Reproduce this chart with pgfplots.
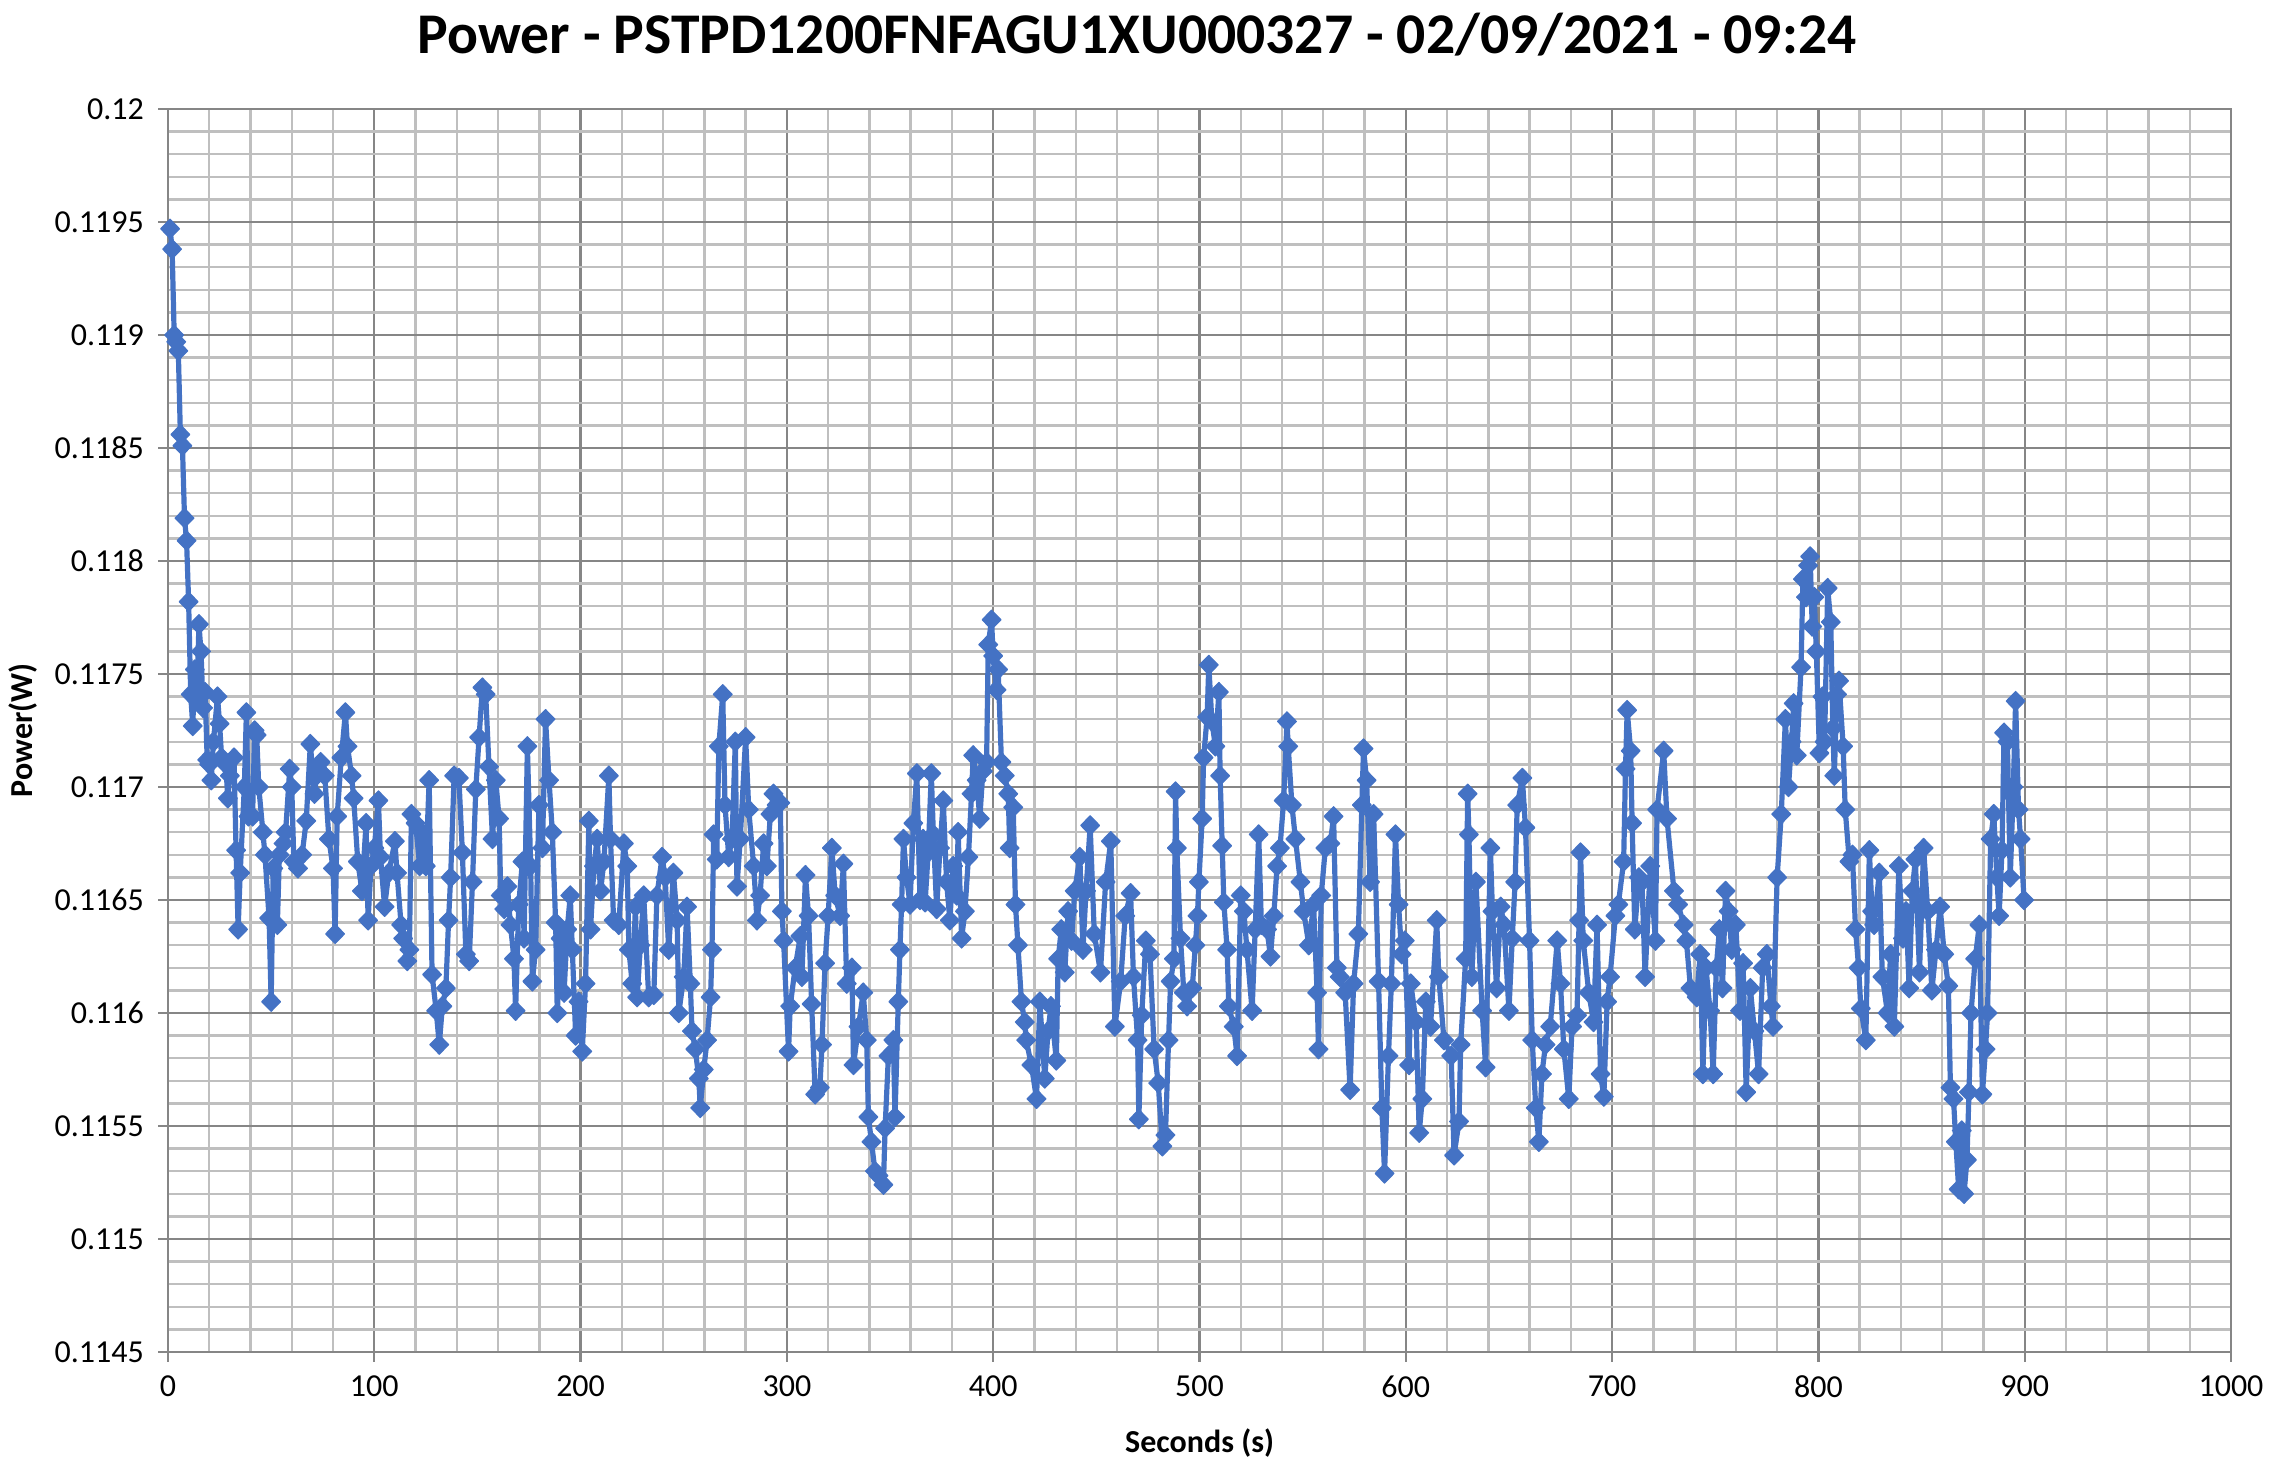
\documentclass[border=0pt]{standalone}
\usepackage{fontspec}
\setmainfont{Carlito}
\usepackage{pgfplots}
\pgfplotsset{compat=1.18}
\definecolor{series}{HTML}{4472C4}
\definecolor{majgrid}{RGB}{134,134,134}
\definecolor{mingrid}{RGB}{191,191,191}

\begin{document}
\begin{tikzpicture}
\begin{axis}[
  at={(0,0)}, anchor=south west,
  scale only axis, width=515.75pt, height=310.75pt,
  xmin=0, xmax=1000, ymin=0.1145, ymax=0.12,
  xtick={0,100,200,300,400,500,600,700,800,900,1000},
  ytick={0.1145,0.115,0.1155,0.116,0.1165,0.117,0.1175,0.118,0.1185,0.119,0.1195,0.12},
  minor x tick num=4, minor y tick num=4,
  grid=both,
  major grid style={majgrid, line width=0.6pt},
  minor grid style={mingrid, line width=0.6pt},
  axis line style={majgrid, line width=0.6pt},
  tick align=outside, major tick length=2.5pt, minor tick length=0pt,
  tick style={majgrid, line width=0.6pt},
  xtick pos=left, ytick pos=left,
  scaled ticks=false,
  tick label style={font=\fontsize{8}{9.6}\selectfont, /pgf/number format/assume math mode=true},
  yticklabel style={/pgf/number format/.cd, fixed, precision=4},
  xticklabel style={/pgf/number format/.cd, 1000 sep={}},
]
\addplot[series, line width=1.3pt, line join=round, mark=diamond*, mark size=2.4pt,
  mark options={fill=series, draw=series, line width=0.3pt, xscale=1.3}] table {
x y
1 0.11947
2 0.11938
3 0.11900
4 0.11897
5 0.11893
6 0.11856
7 0.11851
8 0.11819
9 0.11809
10 0.11782
11 0.11741
12 0.11727
13 0.11752
14 0.11740
15 0.11772
16 0.11760
17 0.11735
18 0.11742
19 0.11712
20 0.11710
21 0.11703
22 0.11720
24 0.11740
25 0.11728
26 0.11713
28 0.11710
29 0.11695
30 0.11705
32 0.11713
33 0.11672
34 0.11637
35 0.11662
37 0.11700
38 0.11733
39 0.11687
41 0.11687
42 0.11725
43 0.11723
44 0.11700
46 0.11680
47 0.11670
49 0.11642
50 0.11605
51 0.11664
53 0.11639
54 0.11670
56 0.11675
57 0.11680
59 0.11708
60 0.11700
61 0.11667
63 0.11664
65 0.11670
67 0.11685
69 0.11719
71 0.11697
72 0.11705
74 0.11711
76 0.11705
78 0.11677
80 0.11664
81 0.11635
82 0.11687
84 0.11713
86 0.11733
87 0.11718
89 0.11705
90 0.11695
92 0.11667
94 0.11654
96 0.11684
97 0.11641
98.4 0.11665
100 0.11673
102 0.11694
103 0.11669
105 0.11647
107 0.11662
110 0.11676
111 0.11662
113 0.11639
114 0.11633
116 0.11623
117 0.11628
118 0.11688
120 0.11684
122 0.11665
123 0.11680
125 0.11665
126.6 0.11703
128 0.11617
130 0.11601
131.5 0.11586
133 0.11603
134.7 0.11611
136 0.11641
137 0.11660
138.7 0.11705
141 0.11704
142.7 0.11671
144.4 0.11626
146 0.11623
147.6 0.11658
149.2 0.11699
150.8 0.11722
152.4 0.11744
154 0.11741
155.6 0.11709
157.3 0.11677
158.9 0.11703
160.5 0.11686
161.3 0.11652
163 0.11646
164.5 0.11656
166 0.11639
167.7 0.11624
168.5 0.11601
170 0.11648
171.8 0.11667
172.6 0.11633
174.2 0.11718
175.8 0.11665
176.6 0.11614
178.2 0.11628
179.8 0.11692
181.5 0.11673
183 0.11730
184.7 0.11703
186.3 0.11680
187.9 0.11640
188.7 0.11600
190.3 0.11633
192 0.11609
193.5 0.11637
195 0.11652
196 0.11628
197.6 0.11590
199 0.11605
200.8 0.11583
202.4 0.11613
204 0.11685
204.8 0.11637
206.5 0.11665
208 0.11677
209.7 0.11654
211.3 0.11667
213.7 0.11705
214.5 0.11677
216 0.11641
218.5 0.11639
221 0.11675
222.6 0.11665
223.4 0.11628
225 0.11613
226.6 0.11647
227.4 0.11607
229 0.11630
230.6 0.11652
233 0.11607
235.5 0.11608
237 0.11652
239.5 0.11669
241 0.11660
242.7 0.11628
245 0.11662
246.8 0.11641
247.6 0.11600
250 0.11616
251.6 0.11647
253.2 0.11613
254 0.11592
255.6 0.11584
257.3 0.11571
258 0.11558
259.7 0.11575
261.3 0.11588
263 0.11607
263.7 0.11628
264.5 0.11679
266 0.11668
267 0.11718
268.9 0.11741
270 0.11692
271.8 0.11669
273.4 0.11677
275 0.11720
275.8 0.11656
277.4 0.11677
280 0.11722
281.5 0.11690
283.9 0.11665
285.5 0.11641
287 0.11652
288.7 0.11675
290.3 0.11665
292 0.11688
293.5 0.11697
295 0.11692
296.8 0.11693
297.6 0.11645
298.4 0.11632
300.8 0.11583
301.6 0.11603
304 0.11620
306.5 0.11634
307.3 0.11616
309 0.11661
310.5 0.11643
312 0.11604
313.7 0.11564
316 0.11567
317 0.11586
318.5 0.11622
320 0.11643
321.8 0.11673
323.4 0.11652
325.8 0.11643
327.4 0.11666
329 0.11613
331.5 0.11620
332.3 0.11577
334.7 0.11594
337 0.11609
338.7 0.11588
339.5 0.11554
341 0.11543
342.7 0.11530
344.4 0.11528
346.8 0.11524
347.6 0.11549
349.2 0.11581
351.6 0.11588
352.4 0.11554
354 0.11605
354.8 0.11628
355.6 0.11648
356.5 0.11677
358 0.11660
359.7 0.11648
361.3 0.11684
363 0.11706
364.5 0.11650
366 0.11677
367 0.11649
368.5 0.11671
370 0.11706
371 0.11679
372.6 0.11646
374.2 0.11673
375.8 0.11694
377.4 0.11658
379 0.11641
380.6 0.11665
382.3 0.11652
383 0.11680
384.7 0.11633
386.3 0.11645
388 0.11669
389.5 0.11697
390.3 0.11714
392 0.11703
393.5 0.11686
395 0.11707
396.8 0.11711
397.6 0.11763
399.2 0.11774
400 0.11758
401.6 0.11743
402.4 0.11752
404 0.11711
405.6 0.11705
407.3 0.11697
408 0.11673
409.7 0.11691
410.8 0.11648
412 0.11630
413.7 0.11605
415.3 0.11596
416 0.11588
418.5 0.11577
421 0.11562
422.6 0.11605
425 0.11571
426.6 0.11592
428 0.11603
430.6 0.11579
431.5 0.11624
433 0.11637
434.7 0.11618
436.3 0.11645
438 0.11632
439.5 0.11654
442 0.11669
443.5 0.11628
445 0.11654
447 0.11683
449 0.11635
452 0.11618
454.5 0.11658
457 0.11676
459 0.11594
461.8 0.11614
464 0.11643
466.6 0.11653
468 0.11616
470 0.11588
470.6 0.11553
472 0.11599
474 0.11632
476 0.11626
478 0.11584
480 0.11569
482 0.11541
483.5 0.11546
485 0.11588
486 0.11614
487.6 0.11624
488.4 0.11698
489 0.11673
490.8 0.11633
492.4 0.11609
494 0.11603
496.5 0.11611
498 0.11630
499 0.11643
499.7 0.11658
501.3 0.11686
502 0.11713
503.7 0.11731
504.5 0.11754
506 0.11729
507.7 0.11718
509.4 0.11742
510 0.11705
511 0.11674
511.8 0.11649
513.4 0.11628
514.2 0.11603
516.6 0.11594
518.2 0.11581
520 0.11652
521.5 0.11645
523 0.11628
525.5 0.11601
527 0.11637
528.7 0.11679
530 0.11639
532.7 0.11637
534.4 0.11625
536 0.11643
537.6 0.11665
539 0.11673
540.8 0.11694
542.4 0.11729
543 0.11718
544.8 0.11692
546.5 0.11677
548.9 0.11658
550.5 0.11645
553 0.11630
555.3 0.11648
557 0.11609
557.7 0.11584
559 0.11652
561 0.11673
563.4 0.11675
565 0.11687
566.6 0.11620
568 0.11616
570.6 0.11609
573 0.11566
574.7 0.11613
577 0.11635
578.7 0.11692
579.5 0.11717
581 0.11703
582.7 0.11658
584.4 0.11688
586.8 0.11614
588.4 0.11558
589.7 0.11529
591.6 0.11581
593 0.11613
595 0.11679
596.5 0.11648
598 0.11626
599.5 0.11632
601.6 0.11577
602.4 0.11613
605 0.11596
606.5 0.11547
608 0.11562
609.7 0.11605
612 0.11594
615 0.11641
616 0.11616
618.5 0.11588
622 0.11581
623.4 0.11537
625.8 0.11552
626.6 0.11586
629 0.11624
630 0.11697
630.6 0.11679
632 0.11616
634 0.11658
637 0.11601
638.7 0.11576
641 0.11673
642 0.11645
644 0.11611
646 0.11647
647.6 0.11639
650 0.11601
651.6 0.11633
653 0.11658
654 0.11692
656.5 0.11704
658 0.11682
660 0.11632
661.3 0.11588
663 0.11558
664.5 0.11543
666 0.11573
667.7 0.11586
670 0.11594
673.4 0.11632
675 0.11613
676.6 0.11584
679 0.11562
680.6 0.11594
683 0.11599
684 0.11641
684.7 0.11671
686 0.11632
688.7 0.11609
691 0.11596
692.7 0.11639
694.4 0.11573
696 0.11563
697.6 0.11605
699 0.11616
701.6 0.11643
703 0.11648
705.6 0.11667
706.5 0.11708
707.3 0.11734
709 0.11716
709.7 0.11684
711 0.11637
713 0.11660
714.5 0.11658
716 0.11616
718.5 0.11665
721 0.11632
721.8 0.11690
725 0.11716
726.6 0.11686
730 0.11654
732 0.11648
734.7 0.11639
736 0.11632
738 0.11611
741 0.11607
742.7 0.11626
744 0.11573
745.5 0.11620
747.5 0.11601
749 0.11573
750.5 0.11620
752 0.11637
753.5 0.11611
755 0.11654
756.5 0.11645
758 0.11628
760 0.11639
762 0.11601
763.5 0.11622
765 0.11565
767 0.11611
769 0.11592
771 0.11573
773 0.11620
775 0.11626
777 0.11603
778 0.11594
780 0.11660
782 0.11688
784 0.11730
785.5 0.11700
787 0.11720
788 0.11737
789.5 0.11714
791.6 0.11753
792.5 0.11792
794 0.11784
795 0.11798
796 0.11802
797 0.11771
798 0.11784
799 0.11760
800.5 0.11715
802 0.11740
803 0.11720
804.5 0.11788
806 0.11773
807 0.11726
807.7 0.11705
809 0.11741
810 0.11747
812 0.11718
813 0.11690
815 0.11667
816.5 0.11670
818 0.11637
819.5 0.11620
820.6 0.11602
823 0.11588
824.7 0.11672
826 0.11645
827 0.11639
829.5 0.11662
831 0.11616
833.5 0.11600
835 0.11626
836.8 0.11594
839 0.11665
841 0.11633
842.5 0.11645
844 0.11611
845.5 0.11654
847 0.11668
849 0.11618
851 0.11673
853 0.11645
855 0.11610
857 0.11628
859 0.11647
861 0.11626
863 0.11612
864 0.11567
865.5 0.11562
866.6 0.11543
868 0.11522
869.5 0.11548
870.6 0.11520
872 0.11535
873 0.11565
874 0.11600
876 0.11624
878 0.11639
879.5 0.11564
881 0.11584
882 0.11600
883.5 0.11677
885 0.11688
886.5 0.11660
887.6 0.11643
889 0.11672
890 0.11724
891.6 0.11720
893 0.11660
894.5 0.11700
895.6 0.11738
897 0.11690
898 0.11677
899.7 0.11650
};
\end{axis}
\node[font=\bfseries\fontsize{14.4}{17}\selectfont, anchor=base] at (242.25pt,324.5pt) {Power - PSTPD1200FNFAGU1XU000327 - 02/09/2021 - 09:24};
\node[font=\bfseries\fontsize{8}{9.6}\selectfont, rotate=90] at (-36.2pt,155.4pt) {Power(W)};
\node[font=\bfseries\fontsize{8}{9.6}\selectfont] at (257.9pt,-22.75pt) {Seconds (s)};
\pgfresetboundingbox
\path[use as bounding box] (-42pt,-28.5pt) rectangle (526.5pt,338pt);
\end{tikzpicture}
\end{document}
